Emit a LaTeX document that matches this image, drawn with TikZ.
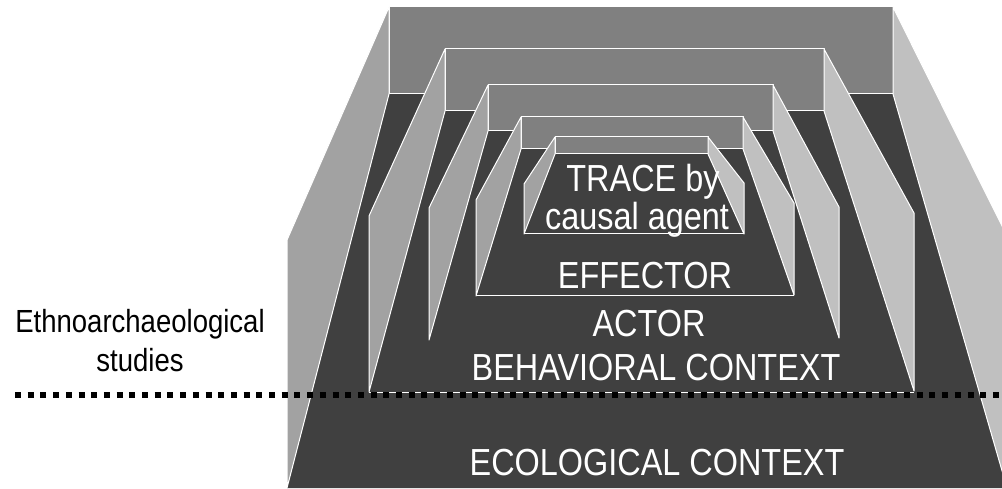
\documentclass[tikz,border=0pt]{standalone}
\usepackage{fontspec}
\setmainfont{Liberation Sans}
\newfontfamily\narrowfont[FakeStretch=0.86]{Liberation Sans}
\definecolor{backwall}{HTML}{808080}
\definecolor{leftwall}{HTML}{A2A2A2}
\definecolor{rightwall}{HTML}{C0C0C0}
\definecolor{floorgray}{HTML}{404040}
\tikzset{
  rim/.style={draw=white, line width=1pt, line join=round},
  backface/.style={rim, fill=backwall},
  leftface/.style={rim, fill=leftwall},
  rightface/.style={rim, fill=rightwall},
  floorface/.style={fill=floorgray},
  layerlabel/.style={text=white, inner sep=0pt, anchor=base,
    font=\narrowfont\fontsize{37.7}{40}\selectfont},
  sidelabel/.style={text=black, inner sep=0pt, anchor=base,
    font=\narrowfont\fontsize{32}{34}\selectfont},
  dotline/.style={line width=6pt, dash pattern=on 6pt off 6.7pt}
}
\begin{document}
\begin{tikzpicture}[x=1pt, y=-1pt]
  \useasboundingbox (0,0) rectangle (1002,489);
  \fill[white] (0,0) rectangle (1002,489);
  \clip (0,0) rectangle (1002,489);

  % ecological context
  \fill[floorface] (389,94) -- (893,94) -- (1007,488) -- (287,488) -- cycle;
  \filldraw[backface] (389,7) rectangle (893,94);
  \filldraw[leftface] (389,7) -- (389,94) -- (287,488) -- (287,240) -- cycle;
  \filldraw[rightface] (893,7) -- (893,94) -- (1007,488) -- (1014,488) -- (1014,250) -- cycle;

  % behavioral context
  \draw[rim] (369,392) -- (914,392);
  \filldraw[backface] (445,49) rectangle (824,111);
  \filldraw[leftface] (445,49) -- (445,111) -- (369,392) -- (369,216) -- cycle;
  \filldraw[rightface] (824,49) -- (824,111) -- (914,391) -- (914,213) -- cycle;

  % actor
  \filldraw[backface] (488,85) rectangle (773,131);
  \filldraw[leftface] (488,85) -- (488,131) -- (429,340) -- (429,208) -- cycle;
  \filldraw[rightface] (773,85) -- (773,131) -- (839,338) -- (839,207) -- cycle;

  % effector
  \draw[rim] (476,296) -- (794,296);
  \filldraw[backface] (521,117) rectangle (743,149);
  \filldraw[leftface] (521,117) -- (521,149) -- (476,296) -- (476,200) -- cycle;
  \filldraw[rightface] (743,117) -- (743,149) -- (794,295) -- (794,203) -- cycle;

  % trace
  \draw[rim] (524,234) -- (744,234);
  \filldraw[backface] (555,137) rectangle (708,154);
  \filldraw[leftface] (555,137) -- (555,154) -- (524,234) -- (524,184) -- cycle;
  \filldraw[rightface] (708,137) -- (708,154) -- (744,234) -- (744,183) -- cycle;

  % labels
  \node[layerlabel] (trace) at (643,192) {TRACE by};
  \node[layerlabel] (agent) at (637,230) {causal agent};
  \node[layerlabel] (effector) at (645,289) {EFFECTOR};
  \node[layerlabel] (actor) at (649,337) {ACTOR};
  \node[layerlabel] (behav) at (656,380) {BEHAVIORAL CONTEXT};
  \node[layerlabel] (ecol) at (657,475) {ECOLOGICAL CONTEXT};

  \node[sidelabel] (ethno) at (140,332) {Ethnoarchaeological};
  \node[sidelabel] (studies) at (140,371) {studies};

  % boundary of ethnoarchaeological studies
  \coordinate (dl) at (15,395.3);
  \coordinate (dr) at (1002,395.3);
  \draw[dotline] (dl) -- (dr);
\end{tikzpicture}
\end{document}
